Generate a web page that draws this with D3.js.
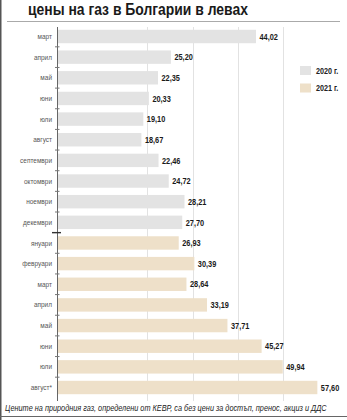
<!DOCTYPE html>
<html><head><meta charset="utf-8">
<script src="https://cdn.jsdelivr.net/npm/d3@7"></script>
<style>
html,body{margin:0;padding:0;background:#fff;}
svg{display:block;}
</style>
</head><body>
<script>
const monthLabels = ["март","април","май","юни","юли","август","септември","октомври","ноември","декември","януари","февруари","март","април","май","юни","юли","август*"];
const years = ["2020","2020","2020","2020","2020","2020","2020","2020","2020","2020","2021","2021","2021","2021","2021","2021","2021","2021"];
const prices = [44.02,25.20,22.35,20.33,19.10,18.67,22.46,24.72,28.21,27.70,26.93,30.39,28.64,33.19,37.71,45.27,49.94,57.60];
const gridValues = [20,30,40,50];
const legendLabels = ["2020 г.","2021 г."];
const legendYears = ["2020","2021"];
const titleText = "цены на газ в Болгарии в левах";
const noteText = "Цените на природния газ, определени от КЕВР, са без цени за достъп, пренос, акциз и ДДС";

const W = 347, H = 420;
const colors = {"2020":"#e3e3e3","2021":"#eee0c9"};
const sans = "'Liberation Sans',Arial,sans-serif";
const CX = 0.8; // horizontal condensing factor

const svg = d3.select("body").append("svg").attr("width",W).attr("height",H);
svg.append("rect").attr("width",W).attr("height",H).attr("fill","#fff");

// frame
svg.append("line").attr("x1",0.75).attr("x2",0.75).attr("y1",0).attr("y2",H).attr("stroke","#555").attr("stroke-width",1.5);
svg.append("line").attr("x1",0).attr("x2",W).attr("y1",416.5).attr("y2",416.5).attr("stroke","#666").attr("stroke-width",1.2);

// fit a text horizontally to a target width by scaling
function fitText(sel, x0, y0, target){
  const w = sel.node().getComputedTextLength();
  const s = Math.min(1, target / w);
  sel.attr("transform", `translate(${x0},${y0}) scale(${s},1)`);
}

// title
const title = svg.append("text").text(titleText)
  .attr("font-family",sans).attr("font-weight","bold")
  .attr("font-size",16).attr("fill","#1a1a1a");
fitText(title, 28, 15, 220);
svg.append("line").attr("x1",7).attr("x2",340).attr("y1",21.5).attr("y2",21.5).attr("stroke","#aaa").attr("stroke-width",1);

const idx = d3.range(prices.length);
const y = d3.scaleBand().domain(idx).range([27,397]).paddingInner(0.35).paddingOuter(0.135);
const x = d3.scaleLinear().domain([0,60]).range([57,57+60*4.52]);

// gridlines
svg.append("g").selectAll("line").data(gridValues).join("line")
  .attr("x1",d=>Math.round(x(d))+0.5).attr("x2",d=>Math.round(x(d))+0.5).attr("y1",27).attr("y2",401)
  .attr("stroke","#e2e2e2").attr("stroke-width",1);

// bars
svg.append("g").selectAll("rect").data(idx).join("rect")
  .attr("x",x(0)).attr("y",i=>y(i)).attr("width",i=>x(prices[i])-x(0)).attr("height",y.bandwidth())
  .attr("fill",i=>colors[years[i]]);

// value labels (condensed)
svg.append("g").selectAll("text").data(idx).join("text")
  .attr("transform",i=>`translate(${x(prices[i])+3.5},${y(i)+y.bandwidth()/2}) scale(${CX},1)`)
  .attr("dy","0.35em")
  .text(i=>d3.format(".2f")(prices[i]).replace(".",","))
  .attr("font-family",sans).attr("font-weight","bold").attr("font-size",9.2).attr("fill","#1a1a1a");

// category labels
svg.append("g").selectAll("text").data(idx).join("text")
  .attr("transform",i=>`translate(52,${y(i)+y.bandwidth()/2}) scale(0.9,1)`)
  .attr("dy","0.35em").attr("text-anchor","end")
  .text(i=>monthLabels[i])
  .attr("font-family",sans).attr("font-size",7.2).attr("fill","#555");

// axis line
svg.append("line").attr("x1",57.5).attr("x2",57.5).attr("y1",27).attr("y2",401).attr("stroke","#666").attr("stroke-width",1);
// ticks between bars
const step = y.step();
const isSep = i => years[i]!==years[i-1];
svg.append("g").selectAll("line").data(idx.slice(1)).join("line")
  .attr("x1",i=>isSep(i)?52:55).attr("x2",i=>isSep(i)?61:59.5)
  .attr("y1",i=>y(i)-step*y.paddingInner()/2).attr("y2",i=>y(i)-step*y.paddingInner()/2)
  .attr("stroke",i=>isSep(i)?"#333":"#777").attr("stroke-width",i=>isSep(i)?1.4:1);

// legend
const lg = svg.append("g");
lg.selectAll("rect").data(legendYears).join("rect")
  .attr("x",300).attr("y",(d,i)=>66+i*17.5).attr("width",11).attr("height",9).attr("fill",d=>colors[d]);
lg.selectAll("text").data(legendLabels).join("text")
  .attr("transform",(d,i)=>`translate(316,${70.5+i*17.5}) scale(${CX},1)`)
  .attr("dy","0.35em").text(d=>d)
  .attr("font-family",sans).attr("font-weight","bold").attr("font-size",9).attr("fill","#222");

// footnote
const note = svg.append("text").text(noteText)
  .attr("font-family",sans).attr("font-style","italic").attr("font-size",8.6).attr("fill","#222");
fitText(note, 5, 410.5, 322);
</script>
</body></html>
